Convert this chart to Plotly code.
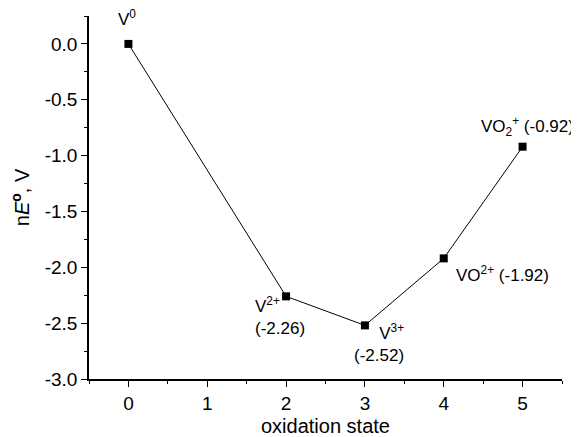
import plotly.graph_objects as go

oxidation_state = [0, 2, 3, 4, 5]
nE = [0.0, -2.26, -2.52, -1.92, -0.92]
species = ["V<sup>0</sup>", "V<sup>2+</sup><br>(-2.26)", "V<sup>3+</sup><br>(-2.52)",
           "VO<sup>2+</sup> (-1.92)", "VO<sub>2</sub><sup>+</sup> (-0.92)"]

x_ticks = [0, 1, 2, 3, 4, 5]
y_ticks = [0.0, -0.5, -1.0, -1.5, -2.0, -2.5, -3.0]
y_ticklabels = ["0.0", "-0.5", "-1.0", "-1.5", "-2.0", "-2.5", "-3.0"]

FONT = "Liberation Sans, Arial, sans-serif"
TICK_FS = 19
TITLE_FS = 20
LABEL_FS = 17

fig = go.Figure()
fig.add_trace(go.Scatter(
    x=oxidation_state, y=nE, mode="lines+markers",
    line=dict(color="black", width=1),
    marker=dict(symbol="square", size=8, color="black"),
    showlegend=False, hoverinfo="skip", cliponaxis=False,
))

# label placement (anchor, shifts) per point
label_style = [
    dict(xanchor="center", yanchor="bottom", xshift=-1, yshift=13, align="center"),
    dict(xanchor="left", yanchor="top", xshift=-33, yshift=4, align="left"),
    dict(xanchor="right", yanchor="top", xshift=41, yshift=6, align="right"),
    dict(xanchor="left", yanchor="middle", xshift=10, yshift=-16, align="left"),
    dict(xanchor="right", yanchor="middle", xshift=53, yshift=20, align="center"),
]
for xv, yv, txt, st in zip(oxidation_state, nE, species, label_style):
    fig.add_annotation(x=xv, y=yv, xref="x", yref="y", text=txt, showarrow=False,
                       font=dict(family=FONT, size=LABEL_FS, color="black"), **st)

# the page adds an 8px body margin, so the figure is 8px smaller and shifted
fig.update_layout(
    width=571, height=429,
    margin=dict(l=81, r=17, t=8, b=58),
    plot_bgcolor="white", paper_bgcolor="white",
    font=dict(family=FONT, size=TICK_FS, color="black"),
)
fig.update_xaxes(
    range=[-0.5, 5.5], tickvals=x_ticks, ticks="outside", ticklen=6, tickwidth=1,
    tickcolor="black", showline=True, linecolor="black", linewidth=1.5,
    showgrid=False, zeroline=False, mirror=False, automargin=False,
    title=dict(text="oxidation state", standoff=10, font=dict(size=TITLE_FS)),
    tickfont=dict(size=TICK_FS),
    minor=dict(dtick=0.5, tick0=-0.5, ticks="outside", ticklen=3, tickcolor="black", showgrid=False),
)
fig.update_yaxes(
    range=[-3.0, 0.25], tickvals=y_ticks, ticktext=y_ticklabels, ticks="outside", ticklen=6,
    tickwidth=1, tickcolor="black", showline=True, linecolor="black", linewidth=1.5,
    showgrid=False, zeroline=False, mirror=False, automargin=False,
    title=dict(text="n<i>E</i><sup><b>o</b></sup>, V", standoff=10, font=dict(size=TITLE_FS)),
    tickfont=dict(size=TICK_FS),
    minor=dict(dtick=0.25, tick0=0, ticks="outside", ticklen=3, tickcolor="black", showgrid=False),
)

fig.write_html("out.html")
